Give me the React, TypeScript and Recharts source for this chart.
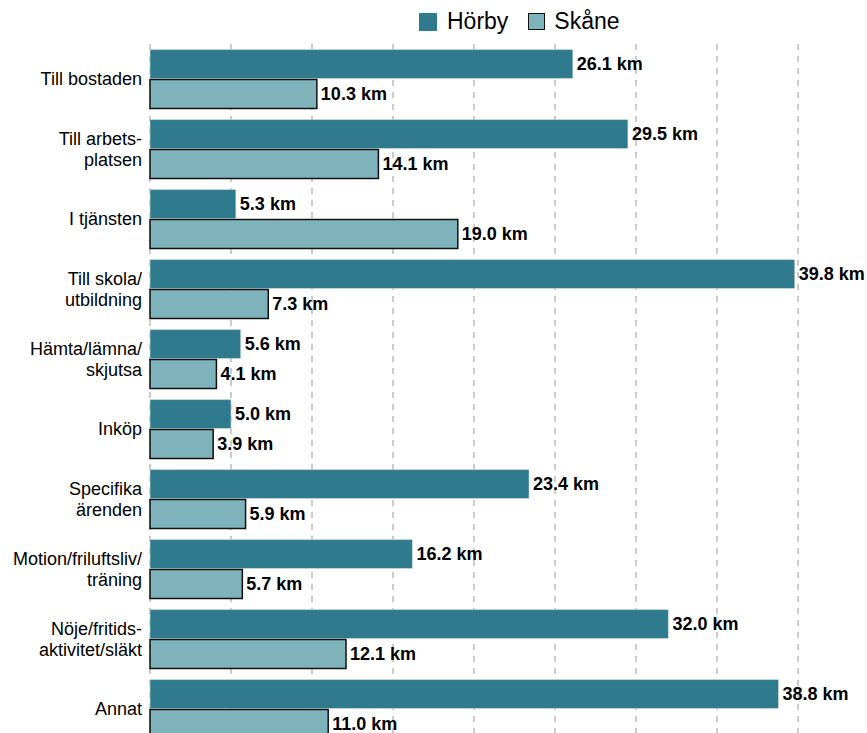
import React from 'react';
import { BarChart, Bar, XAxis, YAxis, CartesianGrid, LabelList } from 'recharts';

const categories = [
  'Till bostaden',
  'Till arbets-|platsen',
  'I tjänsten',
  'Till skola/|utbildning',
  'Hämta/lämna/|skjutsa',
  'Inköp',
  'Specifika|ärenden',
  'Motion/friluftsliv/|träning',
  'Nöje/fritids-|aktivitet/släkt',
  'Annat',
];
const horby = [26.1, 29.5, 5.3, 39.8, 5.6, 5.0, 23.4, 16.2, 32.0, 38.8];
const skane = [10.3, 14.1, 19.0, 7.3, 4.1, 3.9, 5.9, 5.7, 12.1, 11.0];
const xTicks = [0, 5, 10, 15, 20, 25, 30, 35, 40];

const data = categories.map((c, i) => ({ name: c, horby: horby[i], skane: skane[i] }));

const FONT = '"Liberation Sans", Arial, sans-serif';
const HORBY_COLOR = '#2f7a8c';
const SKANE_COLOR = '#7fb3bc';

const CategoryTick = ({ x, y, payload }: any) => {
  const lines = String(payload.value).split('|');
  const lh = 21;
  const start = -((lines.length - 1) * lh) / 2;
  return (
    <text x={x} y={y} textAnchor="end" fontFamily={FONT} fontSize={18} fill="#000">
      {lines.map((l, i) => (
        <tspan key={i} x={x} dy={i === 0 ? start + 6 : lh}>
          {l}
        </tspan>
      ))}
    </text>
  );
};

const formatKm = (v: number) => `${v.toFixed(1)} km`;

const Legend = () => (
  <div
    style={{
      position: 'absolute',
      top: 8,
      left: 419,
      display: 'flex',
      alignItems: 'center',
      fontFamily: FONT,
      fontSize: 23,
      color: '#000',
    }}
  >
    <span style={{ width: 18, height: 18, background: HORBY_COLOR, display: 'inline-block', marginRight: 10 }} />
    <span style={{ marginRight: 20 }}>Hörby</span>
    <span
      style={{
        width: 15,
        height: 15,
        background: SKANE_COLOR,
        border: '1.5px solid #111',
        display: 'inline-block',
        marginRight: 9,
      }}
    />
    <span>Skåne</span>
  </div>
);

const labelStyle = { fontFamily: FONT, fontSize: 18, fontWeight: 700, fill: '#000' };

export default function App() {
  return (
    <div style={{ position: 'fixed', left: 0, top: 0, width: 867, height: 733, overflow: 'hidden', background: '#fff' }}>
      <Legend />
      <BarChart
        width={867}
        height={752}
        data={data}
        layout="vertical"
        margin={{ top: 44, right: 69, left: 0, bottom: 8 }}
        barCategoryGap="8%"
        barGap={1}
      >
        <CartesianGrid horizontal={false} stroke="#bbbbbb" strokeWidth={1.5} strokeDasharray="6 6" />
        <XAxis type="number" domain={[0, 40]} ticks={xTicks} hide />
        <YAxis
          type="category"
          dataKey="name"
          width={150}
          axisLine={false}
          tickLine={false}
          interval={0}
          tick={<CategoryTick />}
        />
        <Bar dataKey="horby" fill={HORBY_COLOR} stroke="#e8eef0" strokeWidth={0.5} isAnimationActive={false}>
          <LabelList dataKey="horby" position="right" offset={4} formatter={formatKm} style={labelStyle} />
        </Bar>
        <Bar dataKey="skane" fill={SKANE_COLOR} stroke="#111" strokeWidth={1.5} isAnimationActive={false}>
          <LabelList dataKey="skane" position="right" offset={4} formatter={formatKm} style={labelStyle} />
        </Bar>
      </BarChart>
    </div>
  );
}
